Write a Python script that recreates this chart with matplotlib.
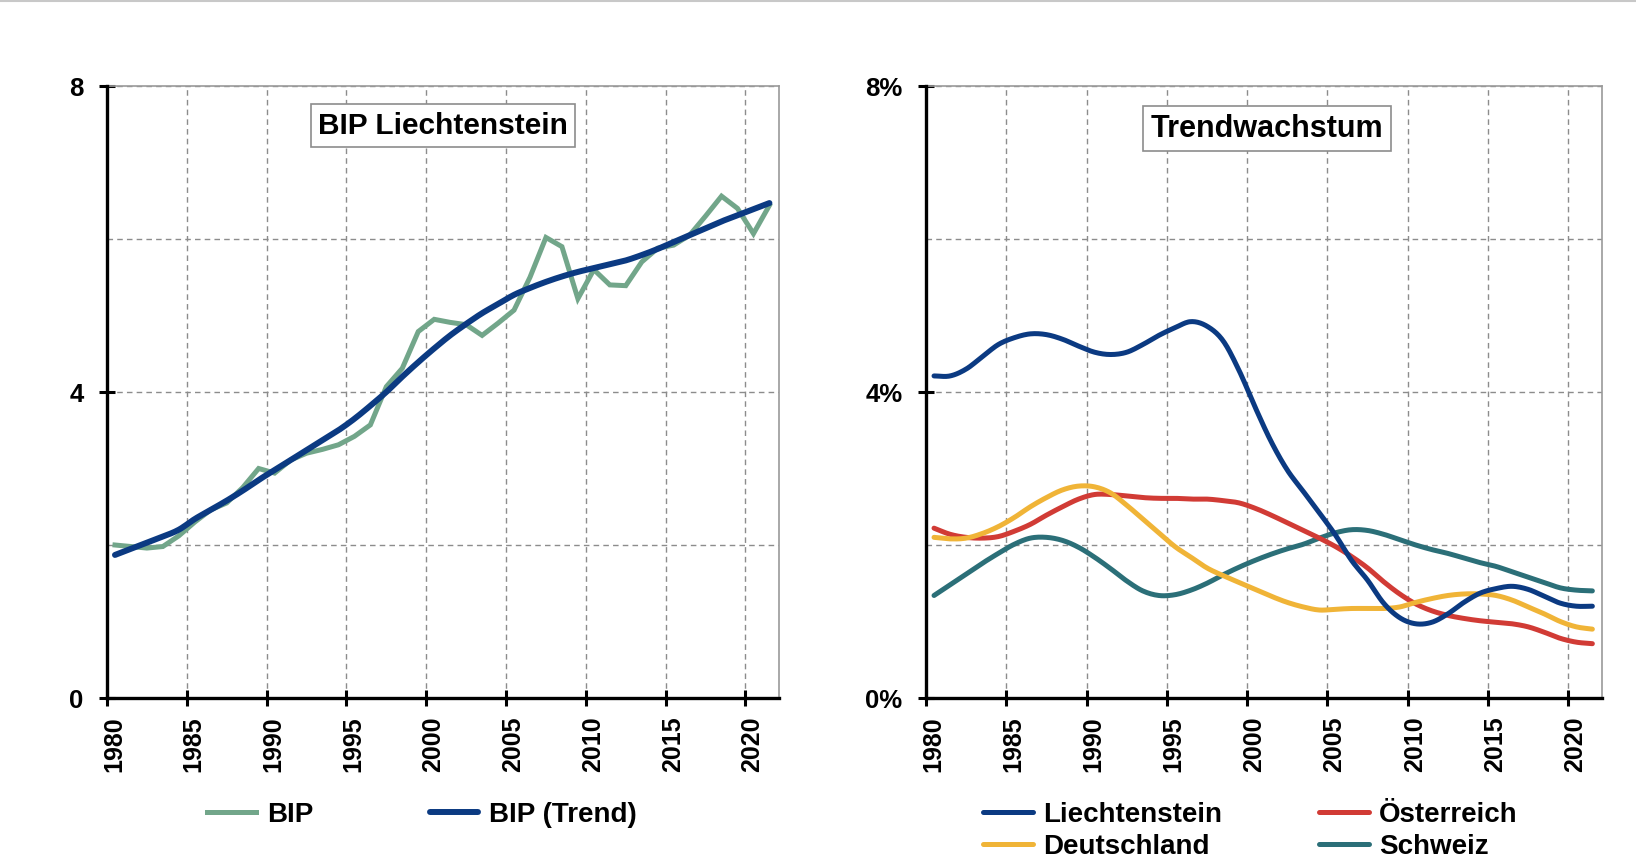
import numpy as np
import matplotlib
matplotlib.use("Agg")
import matplotlib.pyplot as plt
from matplotlib.ticker import FixedLocator, NullFormatter
from matplotlib.lines import Line2D
from matplotlib.transforms import ScaledTranslation

plt.rcParams['font.family'] = ['Liberation Sans', 'DejaVu Sans']
plt.rcParams['font.weight'] = 'bold'

years = list(range(1980, 2022))

bip = [2.00, 1.98, 1.96, 1.98, 2.12, 2.30, 2.46, 2.55, 2.75, 3.00,
       2.94, 3.11, 3.20, 3.25, 3.31, 3.42, 3.57, 4.07, 4.31, 4.79,
       4.95, 4.91, 4.88, 4.74, 4.90, 5.07, 5.50, 6.02, 5.90, 5.22,
       5.60, 5.40, 5.39, 5.70, 5.88, 5.92, 6.05, 6.30, 6.56, 6.40,
       6.07, 6.44]

bip_trend = [1.87, 1.95, 2.03, 2.11, 2.20, 2.34, 2.46, 2.58, 2.71, 2.85,
             2.98, 3.11, 3.24, 3.37, 3.50, 3.65, 3.82, 4.00, 4.20, 4.39,
             4.57, 4.74, 4.89, 5.03, 5.15, 5.27, 5.36, 5.44, 5.51, 5.57,
             5.62, 5.67, 5.72, 5.79, 5.87, 5.96, 6.05, 6.14, 6.23, 6.31,
             6.39, 6.47]

liechtenstein = [4.21, 4.21, 4.30, 4.46, 4.62, 4.71, 4.76, 4.75, 4.69, 4.60,
                 4.52, 4.49, 4.52, 4.62, 4.74, 4.84, 4.92, 4.86, 4.67, 4.28,
                 3.80, 3.35, 2.98, 2.70, 2.42, 2.13, 1.80, 1.54, 1.24, 1.05,
                 0.97, 0.99, 1.10, 1.25, 1.37, 1.43, 1.46, 1.42, 1.33, 1.24,
                 1.20, 1.20]

oesterreich = [2.22, 2.14, 2.10, 2.09, 2.11, 2.18, 2.27, 2.39, 2.50, 2.60,
               2.66, 2.66, 2.64, 2.62, 2.61, 2.61, 2.60, 2.60, 2.58, 2.55,
               2.48, 2.39, 2.29, 2.19, 2.09, 1.98, 1.85, 1.70, 1.52, 1.36,
               1.23, 1.14, 1.08, 1.04, 1.01, 0.99, 0.97, 0.93, 0.86, 0.78,
               0.73, 0.71]

deutschland = [2.10, 2.08, 2.09, 2.15, 2.24, 2.36, 2.50, 2.62, 2.72, 2.77,
               2.76, 2.68, 2.52, 2.34, 2.16, 1.98, 1.84, 1.70, 1.60, 1.51,
               1.42, 1.33, 1.25, 1.19, 1.15, 1.16, 1.17, 1.17, 1.17, 1.19,
               1.25, 1.30, 1.34, 1.36, 1.36, 1.34, 1.28, 1.19, 1.10, 1.00,
               0.93, 0.90]

schweiz = [1.34, 1.48, 1.62, 1.76, 1.89, 2.01, 2.09, 2.10, 2.06, 1.97,
           1.84, 1.69, 1.53, 1.40, 1.34, 1.35, 1.41, 1.50, 1.61, 1.71,
           1.80, 1.88, 1.95, 2.01, 2.09, 2.16, 2.20, 2.19, 2.14, 2.07,
           2.00, 1.94, 1.89, 1.83, 1.77, 1.72, 1.65, 1.58, 1.51, 1.44,
           1.41, 1.40]

x_ticks = [1980, 1985, 1990, 1995, 2000, 2005, 2010, 2015, 2020]
left_yticks = [0, 4, 8]
left_ylabels = ['0', '4', '8']
right_yticks = [0, 4, 8]
right_ylabels = ['0%', '4%', '8%']

C_GREEN = '#72a68a'
C_NAVY = '#0b3a82'
C_RED = '#d13b35'
C_YELLOW = '#f0b437'
C_TEAL = '#2b6f78'


def smooth(x, y, n=12):
    """Catmull-Rom smoothing (like Excel's smoothed lines)."""
    x = np.asarray(x, float)
    y = np.asarray(y, float)
    px = np.concatenate([[2 * x[0] - x[1]], x, [2 * x[-1] - x[-2]]])
    py = np.concatenate([[2 * y[0] - y[1]], y, [2 * y[-1] - y[-2]]])
    t = np.linspace(0, 1, n, endpoint=False)
    xs, ys = [], []
    for i in range(1, len(px) - 2):
        for P, out in ((px, xs), (py, ys)):
            p0, p1, p2, p3 = P[i - 1], P[i], P[i + 1], P[i + 2]
            out.extend(0.5 * ((2 * p1) + (-p0 + p2) * t
                              + (2 * p0 - 5 * p1 + 4 * p2 - p3) * t ** 2
                              + (-p0 + 3 * p1 - 3 * p2 + p3) * t ** 3))
    xs.append(x[-1])
    ys.append(y[-1])
    return np.array(xs), np.array(ys)


W, H = 1636, 855
fig = plt.figure(figsize=(W / 100, H / 100), dpi=100)

# thin grey line at top of image
fig.add_artist(Line2D([0, 1], [1 - 1.5 / H, 1 - 1.5 / H], color='#c8c8c8', lw=1.5))

axL = fig.add_axes([107 / W, 1 - 698 / H, 672 / W, 612 / H])
axR = fig.add_axes([926 / W, 1 - 698 / H, 676 / W, 612 / H])

xpos = np.array(years) + 0.5
label_shift = ScaledTranslation(7 / 100, 0, fig.dpi_scale_trans)


def style(ax, yticks, ylabels):
    ax.set_xlim(1980, 2022.1)
    ax.set_ylim(0, 8)
    ax.xaxis.set_major_locator(FixedLocator(x_ticks))
    ax.set_xticklabels([str(v) for v in x_ticks], rotation=90, fontsize=18,
                       fontweight='bold')
    ax.yaxis.set_major_locator(FixedLocator(yticks))
    ax.set_yticklabels(ylabels, fontsize=18.5, fontweight='bold')
    ax.yaxis.set_minor_locator(FixedLocator([2, 6]))
    ax.yaxis.set_minor_formatter(NullFormatter())
    ax.tick_params(axis='both', which='major', direction='inout', length=12,
                   width=2.2, color='black')
    ax.tick_params(axis='y', which='major', pad=11)
    ax.tick_params(axis='x', which='major', pad=7)
    ax.tick_params(axis='y', which='minor', length=0)
    ax.grid(True, which='both', axis='y', color='#8c8c8c', lw=1.0,
            ls=(0, (4, 3)))
    ax.grid(True, which='major', axis='x', color='#8c8c8c', lw=1.0,
            ls=(0, (4, 3)))
    ax.set_axisbelow(True)
    for lab in ax.get_xticklabels():
        lab.set_transform(lab.get_transform() + label_shift)
    for s in ('left', 'bottom'):
        ax.spines[s].set_linewidth(2.4)
        ax.spines[s].set_color('black')
        ax.spines[s].set_zorder(5)
    for s in ('top', 'right'):
        ax.spines[s].set_linewidth(1.2)
        ax.spines[s].set_color('#9a9a9a')


# ---- left panel
style(axL, left_yticks, left_ylabels)
axL.plot(xpos, bip, color=C_GREEN, lw=3.6, solid_joinstyle='miter',
         label='BIP', zorder=3)
sx, sy = smooth(xpos, bip_trend)
axL.plot(sx, sy, color=C_NAVY, lw=4.3, solid_capstyle='round',
         label='BIP (Trend)', zorder=4)
axL.text(0.5, 0.935, 'BIP Liechtenstein', transform=axL.transAxes,
         ha='center', va='center', fontsize=21.5, fontweight='bold',
         bbox=dict(boxstyle='square,pad=0.25', fc='white', ec='#8c8c8c', lw=1.2),
         zorder=6)

# ---- right panel
style(axR, right_yticks, right_ylabels)
series = [(liechtenstein, C_NAVY, 'Liechtenstein'),
          (deutschland, C_YELLOW, 'Deutschland'),
          (oesterreich, C_RED, 'Österreich'),
          (schweiz, C_TEAL, 'Schweiz')]
handles = {}
for vals, col, lab in [series[3], series[2], series[1], series[0]]:
    sx, sy = smooth(xpos, vals)
    h, = axR.plot(sx, sy, color=col, lw=3.6, solid_capstyle='round', label=lab)
    handles[lab] = h
axR.text(0.505, 0.93, 'Trendwachstum', transform=axR.transAxes,
         ha='center', va='center', fontsize=22, fontweight='bold',
         bbox=dict(boxstyle='square,pad=0.25', fc='white', ec='#8c8c8c', lw=1.2),
         zorder=6)

# ---- legends
hL, lL = axL.get_legend_handles_labels()
fig.legend(hL, lL, loc='center left', bbox_to_anchor=(207 / W, 1 - 815 / H),
           ncol=2, frameon=False, prop=dict(size=20, weight='bold'),
           handlelength=1.75, handletextpad=0.4, columnspacing=4.2,
           borderpad=0, borderaxespad=0)

order = ['Liechtenstein', 'Deutschland', 'Österreich', 'Schweiz']
fig.legend([handles[k] for k in order], order, loc='center left',
           bbox_to_anchor=(983 / W, 1 - 831 / H), ncol=2, frameon=False,
           prop=dict(size=20, weight='bold'), handlelength=1.8,
           handletextpad=0.35, columnspacing=3.5, labelspacing=0.22,
           borderpad=0, borderaxespad=0)

fig.savefig('out.png', dpi=100)
